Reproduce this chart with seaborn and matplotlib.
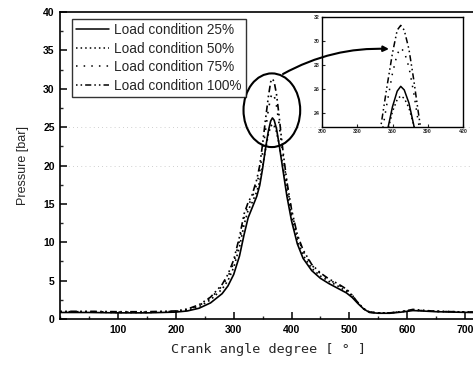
import numpy as np
import pandas as pd
import matplotlib
matplotlib.use("Agg")
import matplotlib.pyplot as plt
from matplotlib.patches import Ellipse, FancyArrowPatch
from matplotlib.ticker import MultipleLocator
from matplotlib.lines import Line2D
import seaborn as sns

# Crank angle [deg] shared by all load cases
crank_angle = [0, 50, 100, 150, 200, 220, 240, 260, 280, 290, 300, 310, 318, 325,
               332, 340, 345, 350, 355, 360, 364, 367, 370, 374, 378, 382, 386,
               392, 400, 410, 420, 435, 450, 465, 480, 495, 505, 515, 525, 535,
               550, 570, 590, 610, 625, 650, 680, 710, 720]

# In-cylinder pressure [bar] for each load condition
p_load25 = [0.85, 0.85, 0.8, 0.8, 0.9, 1.05, 1.4, 2.1, 3.3, 4.3, 5.8, 8.2, 11.0, 13.2,
            14.5, 16.0, 17.4, 19.6, 22.2, 24.5, 25.8, 26.2, 25.9, 24.8, 23.0, 21.0, 19.0,
            16.0, 12.8, 9.8, 7.9, 6.3, 5.3, 4.6, 4.0, 3.4, 2.8, 2.0, 1.3, 0.85,
            0.75, 0.75, 0.9, 1.1, 1.05, 0.95, 0.9, 0.85, 0.85]
p_load50 = [0.9, 0.9, 0.85, 0.85, 0.95, 1.15, 1.6, 2.5, 3.9, 5.0, 6.7, 9.4, 12.3, 14.2,
            15.2, 16.6, 17.9, 19.9, 22.1, 24.1, 25.1, 25.4, 25.2, 24.4, 23.0, 21.3, 19.5,
            16.7, 13.4, 10.3, 8.3, 6.6, 5.6, 4.9, 4.3, 3.6, 3.0, 2.1, 1.35, 0.9,
            0.8, 0.8, 0.95, 1.15, 1.1, 1.0, 0.95, 0.9, 0.9]
p_load75 = [0.95, 0.95, 0.9, 0.9, 1.0, 1.25, 1.75, 2.7, 4.3, 5.5, 7.3, 10.2, 13.2, 14.8,
            15.8, 17.6, 19.2, 21.7, 24.6, 27.3, 28.9, 29.4, 29.1, 27.8, 25.7, 23.2, 21.0,
            17.6, 14.0, 10.8, 8.8, 7.0, 5.9, 5.1, 4.5, 3.8, 3.1, 2.1, 1.3, 0.9,
            0.8, 0.8, 0.95, 1.2, 1.1, 1.0, 0.95, 0.9, 0.9]
p_load100 = [1.0, 1.0, 0.95, 0.95, 1.05, 1.3, 1.85, 2.85, 4.5, 5.8, 7.7, 10.7, 13.7, 15.2,
             16.2, 18.2, 20.0, 22.8, 26.0, 29.0, 30.9, 31.3, 30.9, 29.3, 26.8, 24.0, 21.4,
             17.9, 14.3, 11.0, 9.0, 7.1, 6.0, 5.2, 4.6, 3.9, 3.1, 2.1, 1.3, 0.9,
             0.8, 0.8, 0.95, 1.25, 1.15, 1.0, 0.95, 0.9, 0.9]

load_labels = ["Load condition 25%", "Load condition 50%",
               "Load condition 75%", "Load condition 100%"]
x_ticks = [100, 200, 300, 400, 500, 600, 700]
y_ticks = [0, 5, 10, 15, 20, 25, 30, 35, 40]
inset_x_ticks = [300, 330, 360, 390, 420]
inset_y_ticks = [24, 26, 28, 30, 32]

series = [p_load25, p_load50, p_load75, p_load100]
df = pd.concat(
    [pd.DataFrame({"angle": crank_angle, "pressure": p, "load": lab})
     for p, lab in zip(series, load_labels)],
    ignore_index=True,
)

line_dashes = {
    load_labels[0]: "",
    load_labels[1]: (1, 2),
    load_labels[2]: (1, 4),
    load_labels[3]: (1, 2, 1, 2, 4, 2),
}
palette = {lab: "black" for lab in load_labels}

sns.set_theme(style="ticks")
plt.rcParams["font.family"] = ["Liberation Sans", "DejaVu Sans"]
plt.rcParams["axes.linewidth"] = 1.2

fig = plt.figure(figsize=(4.73, 3.69), dpi=100)
ax = fig.add_axes([60.2 / 473, 1 - 319 / 369, 720 * 0.5783 / 473, 307 / 369])

sns.lineplot(data=df, x="angle", y="pressure", hue="load", style="load",
             palette=palette, dashes=line_dashes, sort=False, estimator=None,
             linewidth=1.2, legend=False, ax=ax)

# faint dotted guide lines
for yv in (20, 25):
    ax.axhline(yv, color="#c0c0c0", lw=0.6, ls=(0, (1, 4)), zorder=0)

ax.set_xlim(0, 720)
ax.set_ylim(0, 40)
ax.set_xticks(x_ticks)
ax.set_yticks(y_ticks)
ax.xaxis.set_minor_locator(MultipleLocator(50))
ax.yaxis.set_minor_locator(MultipleLocator(2.5))
ax.tick_params(which="major", direction="in", length=5, width=1.1,
               labelsize=7.5, pad=4, colors="black")
ax.tick_params(which="minor", direction="in", length=2.5, width=1.0)
for lab in ax.get_xticklabels() + ax.get_yticklabels():
    lab.set_fontweight("bold")
for sp in ax.spines.values():
    sp.set_visible(True)
    sp.set_color("black")

ax.set_xlabel("Crank angle degree [ ° ]", fontsize=9.7, family="DejaVu Sans Mono",
              labelpad=6)
ax.set_ylabel("Pressure [bar]", fontsize=9, labelpad=10)

handles = [Line2D([], [], color="black", lw=1.1,
                  linestyle=(0, line_dashes[lab]) if line_dashes[lab] else "-")
           for lab in load_labels]
leg = ax.legend(handles, load_labels, loc="upper left",
                bbox_to_anchor=(72 / 473, 1 - 19 / 369), bbox_transform=fig.transFigure,
                frameon=True, fancybox=False, shadow=False, fontsize=9.8,
                handlelength=2.4, handletextpad=0.4, borderpad=0.3,
                labelspacing=0.33, borderaxespad=0)
leg.get_frame().set_edgecolor("black")
leg.get_frame().set_linewidth(1.0)

# peak region highlight
ax.add_patch(Ellipse((366, 27.2), 98, 9.6, fill=False, edgecolor="black", lw=1.5))

# zoomed view of the peak pressure
axin = fig.add_axes([322 / 473, 1 - 127 / 369, 141 / 473, 110 / 369])
sns.lineplot(data=df, x="angle", y="pressure", hue="load", style="load",
             palette=palette, dashes=line_dashes, sort=False, estimator=None,
             linewidth=1.1, legend=False, ax=axin)
axin.set_xlim(300, 420)
axin.set_ylim(22.8, 32)
axin.set_xticks(inset_x_ticks)
axin.set_yticks(inset_y_ticks)
axin.tick_params(direction="in", length=2, width=0.8, labelsize=3.8, pad=1.5)
for lab in axin.get_xticklabels() + axin.get_yticklabels():
    lab.set_fontweight("bold")
axin.set_xlabel("")
axin.set_ylabel("")
for sp in axin.spines.values():
    sp.set_visible(True)
    sp.set_color("black")
    sp.set_linewidth(1.0)

# curved pointer from the highlighted peak to the zoomed view
arrow = FancyArrowPatch((283 / 473, 1 - 74 / 369), (389 / 473, 1 - 49 / 369),
                        transform=fig.transFigure, arrowstyle="-|>",
                        connectionstyle="arc3,rad=-0.14", color="black",
                        lw=1.5, mutation_scale=8, shrinkA=0, shrinkB=0, zorder=5)
fig.add_artist(arrow)

fig.savefig("out.png", dpi=100)
